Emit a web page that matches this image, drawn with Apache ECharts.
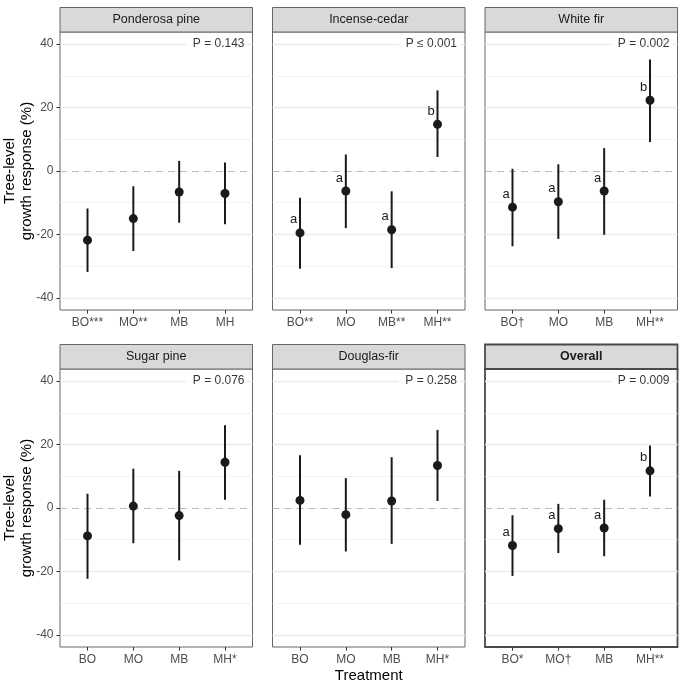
<!DOCTYPE html>
<html><head><meta charset="utf-8">
<script src="https://cdn.jsdelivr.net/npm/echarts@6/dist/echarts.min.js"></script>
<style>html,body{margin:0;padding:0;background:#fff}#c{width:685px;height:681px}</style>
</head><body><div id="c"></div>
<script>
// ---- data ----
const panelTitles = ['Ponderosa pine', 'Incense-cedar', 'White fir', 'Sugar pine', 'Douglas-fir', 'Overall'];
const categories = ['BO', 'MO', 'MB', 'MH'];
const tickLabels = [
  ['BO***', 'MO**', 'MB', 'MH'],
  ['BO**', 'MO', 'MB**', 'MH**'],
  ['BO†', 'MO', 'MB', 'MH**'],
  ['BO', 'MO', 'MB', 'MH*'],
  ['BO', 'MO', 'MB', 'MH*'],
  ['BO*', 'MO†', 'MB', 'MH**']
];
const estimates = [
  [-21.8, -15.0, -6.6, -7.1],
  [-19.5, -6.3, -18.5, 14.7],
  [-11.4, -9.7, -6.3, 22.3],
  [-8.8, 0.6, -2.4, 14.4],
  [2.4, -2.1, 2.2, 13.4],
  [-11.8, -6.5, -6.3, 11.7]
];
const lowers = [
  [-31.8, -25.2, -16.3, -16.8],
  [-30.8, -18.0, -30.6, 4.4],
  [-23.7, -21.4, -20.1, 9.1],
  [-22.3, -11.1, -16.5, 2.6],
  [-11.6, -13.7, -11.3, 2.2],
  [-21.4, -14.2, -15.2, 3.6]
];
const uppers = [
  [-11.8, -4.8, 3.2, 2.7],
  [-8.4, 5.2, -6.4, 25.4],
  [0.7, 2.1, 7.2, 35.1],
  [4.5, 12.4, 11.7, 26.1],
  [16.6, 9.4, 16.0, 24.6],
  [-2.3, 1.3, 2.6, 19.7]
];
const letters = [
  ['', '', '', ''],
  ['a', 'a', 'a', 'b'],
  ['a', 'a', 'a', 'b'],
  ['', '', '', ''],
  ['', '', '', ''],
  ['a', 'a', 'a', 'b']
];
const pValues = ['P = 0.143', 'P ≤ 0.001', 'P = 0.002', 'P = 0.076', 'P = 0.258', 'P = 0.009'];
const yTicks = [-40, -20, 0, 20, 40];
const yMinorTicks = [-30, -10, 10, 30];
const yTitle = 'Tree-level\ngrowth response (%)';
const xTitle = 'Treatment';

// ---- layout ----
const FONT = '"Liberation Sans", Arial, Helvetica, sans-serif';
const colLeft = [60, 272.5, 485];
const panelW = 192.5;
const rowTop = [32, 369];
const panelH = 278;
const stripTop = [7.5, 344.5];
const stripH = [24.5, 24.5];
const yMin = -43.8, yMax = 43.8;
const xMin = 0.4, xMax = 4.6;

const chart = echarts.init(document.getElementById('c'), null, {renderer: 'canvas'});

const grids = [], xAxes = [], yAxes = [], series = [], graphics = [];
for (let p = 0; p < 6; p++) {
  const r = Math.floor(p / 3), c = p % 3;
  const overall = p === 5;
  grids.push({
    left: colLeft[c], top: rowTop[r], width: panelW, height: panelH,
    containLabel: false, outerBoundsMode: 'none',
    show: true, backgroundColor: '#fff',
    borderColor: overall ? '#4a4a4a' : '#666', borderWidth: overall ? 1.8 : 1
  });
  xAxes.push({
    type: 'value', gridIndex: p, min: xMin, max: xMax, position: 'bottom',
    axisLine: {show: false, onZero: false},
    splitLine: {show: false},
    axisTick: {show: true, customValues: [1, 2, 3, 4], length: 3.6, lineStyle: {color: '#333', width: 1}},
    axisLabel: {
      show: true, customValues: [1, 2, 3, 4], margin: 6.5,
      color: '#4d4d4d', fontSize: 12, fontFamily: FONT,
      formatter: (v) => tickLabels[p][Math.round(v) - 1]
    },
    name: p === 4 ? xTitle : '', nameLocation: 'middle', nameGap: 21, nameMoveOverlap: false,
    nameTextStyle: {color: '#000', fontSize: 15, fontFamily: FONT}
  });
  const leftCol = c === 0;
  yAxes.push({
    type: 'value', gridIndex: p, min: yMin, max: yMax, position: 'left',
    axisLine: {show: false, onZero: false},
    splitLine: {show: false},
    axisTick: {show: leftCol, customValues: yTicks, length: 3.6, lineStyle: {color: '#333', width: 1}},
    axisLabel: {show: leftCol, customValues: yTicks, margin: 6.5, color: '#4d4d4d', fontSize: 12, fontFamily: FONT},
    name: leftCol ? yTitle : '', nameLocation: 'middle', nameRotate: 90, nameGap: 25, nameMoveOverlap: false,
    nameTextStyle: {color: '#000', fontSize: 15, fontFamily: FONT, lineHeight: 17, align: 'center'}
  });

  // gridlines + zero line
  const ml = [];
  yTicks.forEach(v => { if (v !== 0) ml.push({yAxis: v, lineStyle: {color: '#ebebeb', width: 1.3, type: 'solid'}}); });
  yMinorTicks.forEach(v => ml.push({yAxis: v, lineStyle: {color: '#f1f1f1', width: 0.8, type: 'solid'}}));
  ml.push({yAxis: 0, lineStyle: {color: '#b8b8b8', width: 1.2, type: [7, 5]}});
  series.push({
    type: 'line', xAxisIndex: p, yAxisIndex: p, data: [], z: 1, silent: true,
    markLine: {silent: true, z: 1, symbol: ['none', 'none'], label: {show: false}, data: ml, animation: false}
  });

  // error bars
  series.push({
    type: 'custom', xAxisIndex: p, yAxisIndex: p, z: 3, silent: true,
    data: categories.map((cat, i) => [i + 1, lowers[p][i], uppers[p][i]]),
    encode: {x: 0, y: [1, 2]},
    renderItem: (params, api) => {
      const a = api.coord([api.value(0), api.value(1)]);
      const b = api.coord([api.value(0), api.value(2)]);
      return {type: 'line', shape: {x1: a[0], y1: a[1], x2: b[0], y2: b[1]}, style: {stroke: '#1a1a1a', lineWidth: 2}};
    }
  });

  // points + letters
  series.push({
    type: 'scatter', xAxisIndex: p, yAxisIndex: p, z: 4, silent: true,
    symbol: 'circle', symbolSize: 9,
    itemStyle: {color: '#1a1a1a', opacity: 1},
    data: categories.map((cat, i) => ({
      value: [i + 1, estimates[p][i]],
      label: {
        show: letters[p][i] !== '', formatter: letters[p][i],
        position: 'inside', offset: [-6.5, -13],
        color: '#1a1a1a', fontSize: 13, fontFamily: FONT
      }
    }))
  });

  // P-value annotation
  series.push({
    type: 'scatter', xAxisIndex: p, yAxisIndex: p, z: 5, silent: true,
    symbolSize: 0, itemStyle: {color: 'transparent'},
    data: [[xMax, yTicks[yTicks.length - 1]]],
    label: {
      show: true, formatter: pValues[p], position: 'left', distance: 5,
      color: '#000', fontSize: 12, fontFamily: FONT,
      backgroundColor: '#fff', padding: [2, 3, 2, 7]
    }
  });

  // strip
  graphics.push({
    type: 'rect', z: 10,
    shape: {x: colLeft[c], y: stripTop[r], width: panelW, height: stripH[r]},
    style: {fill: '#d9d9d9', stroke: overall ? '#4a4a4a' : '#666', lineWidth: overall ? 1.8 : 1}
  });
  graphics.push({
    type: 'text', z: 11,
    x: colLeft[c] + panelW / 2, y: stripTop[r] + stripH[r] / 2,
    style: {
      text: panelTitles[p], fill: '#1a1a1a',
      font: (overall ? 'bold ' : '') + '12.5px ' + FONT,
      align: 'center', verticalAlign: 'middle'
    }
  });
}

chart.setOption({
  animation: false,
  backgroundColor: '#fff',
  grid: grids, xAxis: xAxes, yAxis: yAxes, series: series,
  graphic: {elements: graphics}
});
</script></body></html>
